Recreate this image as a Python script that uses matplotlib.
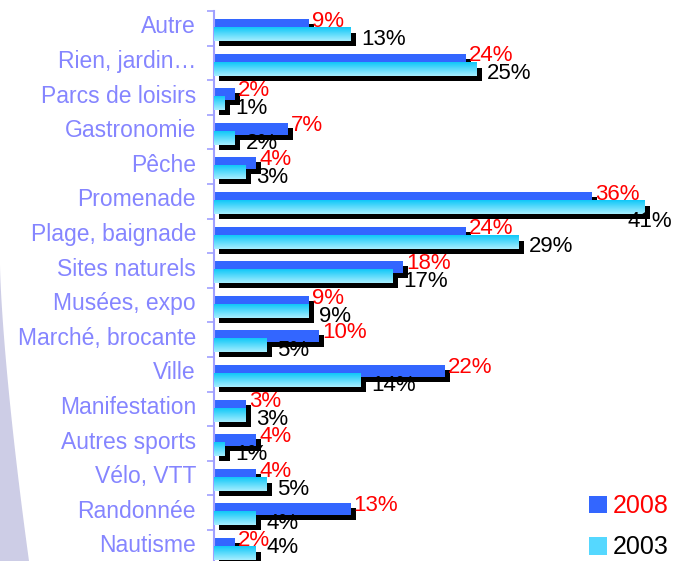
import numpy as np
import matplotlib
matplotlib.use("Agg")
import matplotlib.pyplot as plt
import matplotlib.patheffects as pe
from matplotlib.patches import Patch, Polygon

plt.rcParams['font.family'] = ['Liberation Sans', 'DejaVu Sans']

categories = ["Autre", "Rien, jardin\u2026", "Parcs de loisirs", "Gastronomie",
              "P\u00eache", "Promenade", "Plage, baignade", "Sites naturels",
              "Mus\u00e9es, expo", "March\u00e9, brocante", "Ville", "Manifestation",
              "Autres sports", "V\u00e9lo, VTT", "Randonn\u00e9e", "Nautisme"]
vals_2008 = [9, 24, 2, 7, 4, 36, 24, 18, 9, 10, 22, 3, 4, 4, 13, 2]
vals_2003 = [13, 25, 1, 2, 3, 41, 29, 17, 9, 5, 14, 3, 1, 5, 4, 4]
series_names = ["2008", "2003"]

W, H = 673, 561
fig = plt.figure(figsize=(W / 100, H / 100), dpi=100)

# decorative lavender wedge on the left
yy = np.linspace(265, 561, 60)
xx = 29 * ((yy - 265) / 296) ** 1.4
pts = np.column_stack([np.r_[0, xx, 0], np.r_[265, yy, 561]])
pts[:, 0] /= W
pts[:, 1] = 1 - pts[:, 1] / H
fig.patches.append(Polygon(pts, closed=True, transform=fig.transFigure,
                           facecolor='#cdcde6', edgecolor='none', zorder=0))

band_px = 34.6
n = len(categories)
ax_top = 11
ax_h = band_px * n
ax = fig.add_axes([214 / W, 1 - (ax_top + ax_h) / H, 441 / W, ax_h / H])
ax.patch.set_alpha(0)

y = np.arange(n)
shadow = [pe.SimplePatchShadow(offset=(3.6, -3.6), shadow_rgbFace='black', alpha=1.0),
          pe.Normal()]

b1 = ax.barh(y + 0.405, vals_2008, height=0.347, color='#3366ff', zorder=2)
for b in b1:
    b.set_path_effects(shadow)
b2 = ax.barh(y + 0.679, vals_2003, height=0.376, color='#66ddff', zorder=3)
for b in b2:
    b.set_path_effects(shadow)

# vertical gradient on the 2003 bars
grad = np.linspace(0, 1, 32).reshape(-1, 1)
cmap = matplotlib.colors.LinearSegmentedColormap.from_list('cy', ['#11c8f8', '#a6eeff'])
for i, v in enumerate(vals_2003):
    ax.imshow(grad, cmap=cmap, aspect='auto', interpolation='bilinear',
              extent=(0, v, i + 0.867, i + 0.491), zorder=4)

xmax = 42
for i, (a, b) in enumerate(zip(vals_2008, vals_2003)):
    ax.text(a + 0.3, i + 0.30, f"{a}%", color='red', fontsize=16,
            va='center', ha='left', zorder=6, clip_on=False)
    bx, by = b + 1.0, i + 0.82
    if bx > xmax - 2.6:
        # no room at the right: drop the label under the bar end
        bx, by = xmax - 2.6, i + 1.08
    ax.text(bx, min(by, n - 0.5), f"{b}%",
            color='black', fontsize=16, va='center', ha='left', zorder=6,
            clip_on=False)

ax.set_xlim(0, xmax)
ax.set_ylim(n, 0)
ax.set_xticks([])
ax.set_yticks(y + 0.385)
ax.set_yticklabels(categories, color='#8585ff', fontsize=16.5)
ax.tick_params(axis='y', which='major', length=0, pad=13)
ax.set_yticks(np.arange(n + 1), minor=True)
ax.tick_params(axis='y', which='minor', length=5, color='#a0a0ff', width=1.2)
for s in ['top', 'right', 'bottom']:
    ax.spines[s].set_visible(False)
ax.spines['left'].set_color('#a0a0ff')
ax.spines['left'].set_linewidth(1.5)

handles = [Patch(facecolor='#3366ff', edgecolor='none'),
           Patch(facecolor='#55d8ff', edgecolor='none')]
leg = fig.legend(handles, series_names, loc='upper left',
                 bbox_to_anchor=(589 / W, 1 - 494 / H), bbox_transform=fig.transFigure,
                 frameon=False, fontsize=18, borderpad=0, borderaxespad=0,
                 handlelength=0.7, handleheight=0.7, handletextpad=0.25,
                 labelspacing=0.7)
for t, c in zip(leg.get_texts(), ['red', 'black']):
    t.set_color(c)

fig.savefig("out.png", dpi=100)
